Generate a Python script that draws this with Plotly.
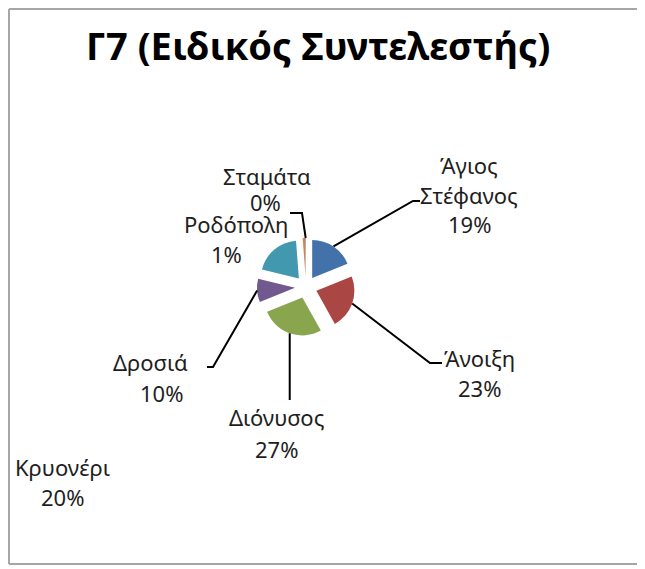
import math
import plotly.graph_objects as go

# ---- data ----
categories = ["Άγιος Στέφανος", "Άνοιξη", "Διόνυσος", "Δροσιά", "Κρυονέρι", "Ροδόπολη", "Σταμάτα"]
values = [19, 23, 27, 10, 20, 1, 0.2]
colors = ["#4372AA", "#AA4643", "#89A54E", "#71588F", "#4198AF", "#DB843D", "#2C4D75"]
title_text = "Γ7 (Ειδικός Συντελεστής)"

# ---- layout constants (window pixels) ----
OFF = 8                      # default page margin of the html body
W, H = 645 - 2 * OFF, 569 - OFF
CX, CY = 306, 287            # pie centre
R_PIE = 38                   # unexploded radius
PULL = 0.29
HALF = R_PIE * (1 + PULL)


def px(x):
    return (x - OFF) / W


def py(y):
    return 1 - (y - OFF) / H


fig = go.Figure(go.Pie(
    labels=categories, values=values, sort=False, direction="clockwise", rotation=0,
    marker=dict(colors=colors, line=dict(width=0)),
    pull=[PULL] * len(values), textinfo="none", hoverinfo="none",
    showlegend=False,
    domain=dict(x=[px(CX - HALF), px(CX + HALF)], y=[py(CY + HALF), py(CY - HALF)]),
))

total = sum(values)
pcts = [f"{round(v / total * 100)}%" for v in values]

# label text-line placement: (category index, list of (line text, x, y))
label_lines = {
    0: [("Άγιος", 469, 165), ("Στέφανος", 469, 195), (None, 469, 224)],
    1: [("Άνοιξη", 479, 358), (None, 479, 388)],
    2: [("Διόνυσος", 276, 417), (None, 276, 449)],
    3: [("Δροσιά", 150, 362), (None, 161, 393)],
    4: [("Κρυονέρι", 62, 467), (None, 62, 497)],
    5: [("Ροδόπολη", 236, 224), (None, 226, 254)],
    6: [("Σταμάτα", 267, 176), (None, 265, 202)],
}

annotations = []
for i, lines in label_lines.items():
    for txt, x, y in lines:
        annotations.append(dict(
            x=px(x), y=py(y), xref="paper", yref="paper", showarrow=False,
            text=txt if txt is not None else pcts[i],
            font=dict(family="Noto Sans", size=22, color="#1e1e1e"),
            xanchor="center", yanchor="middle",
        ))

annotations.append(dict(
    x=px(318), y=py(45), xref="paper", yref="paper", showarrow=False,
    text=f"<b>{title_text}</b>", font=dict(family="Noto Sans", size=38, color="#000000"),
    xanchor="center", yanchor="middle",
))

# leader lines: elbow points per category (window pixels)
leader_elbows = {
    0: [(413, 201), (420, 201)],
    1: [(430, 363), (442, 363)],
    2: [(None, 400)],
    3: [(213, 367), (207, 367)],
    6: [(302, 213), (290, 213)],
}

shapes = []
cum = 0
starts = []
for v in values:
    theta = 2 * math.pi * (cum + v / 2) / total
    cum += v
    starts.append((CX + HALF * math.sin(theta), CY - HALF * math.cos(theta)))

for i, pts in leader_elbows.items():
    sx, sy = starts[i]
    path_pts = [(sx, sy)] + [((sx if x is None else x), y) for x, y in pts]
    d = "M " + " L ".join(f"{px(x)},{py(y)}" for x, y in path_pts)
    shapes.append(dict(type="path", path=d, xref="paper", yref="paper",
                       line=dict(color="#000000", width=2)))

# chart frame: left, top and bottom edges
border = [((9, 564), (9, 9)), ((9, 564), (637, 564)), ((9, 9), (637, 9))]
for (x0, y0), (x1, y1) in border:
    shapes.append(dict(type="line", xref="paper", yref="paper",
                       x0=px(x0), y0=py(y0), x1=px(x1), y1=py(y1),
                       line=dict(color="#a6a6a6", width=2)))

fig.update_layout(
    width=W, height=H, autosize=False,
    margin=dict(l=0, r=0, t=0, b=0),
    paper_bgcolor="white", plot_bgcolor="white",
    annotations=annotations, shapes=shapes,
)

fig.write_html("out.html")
